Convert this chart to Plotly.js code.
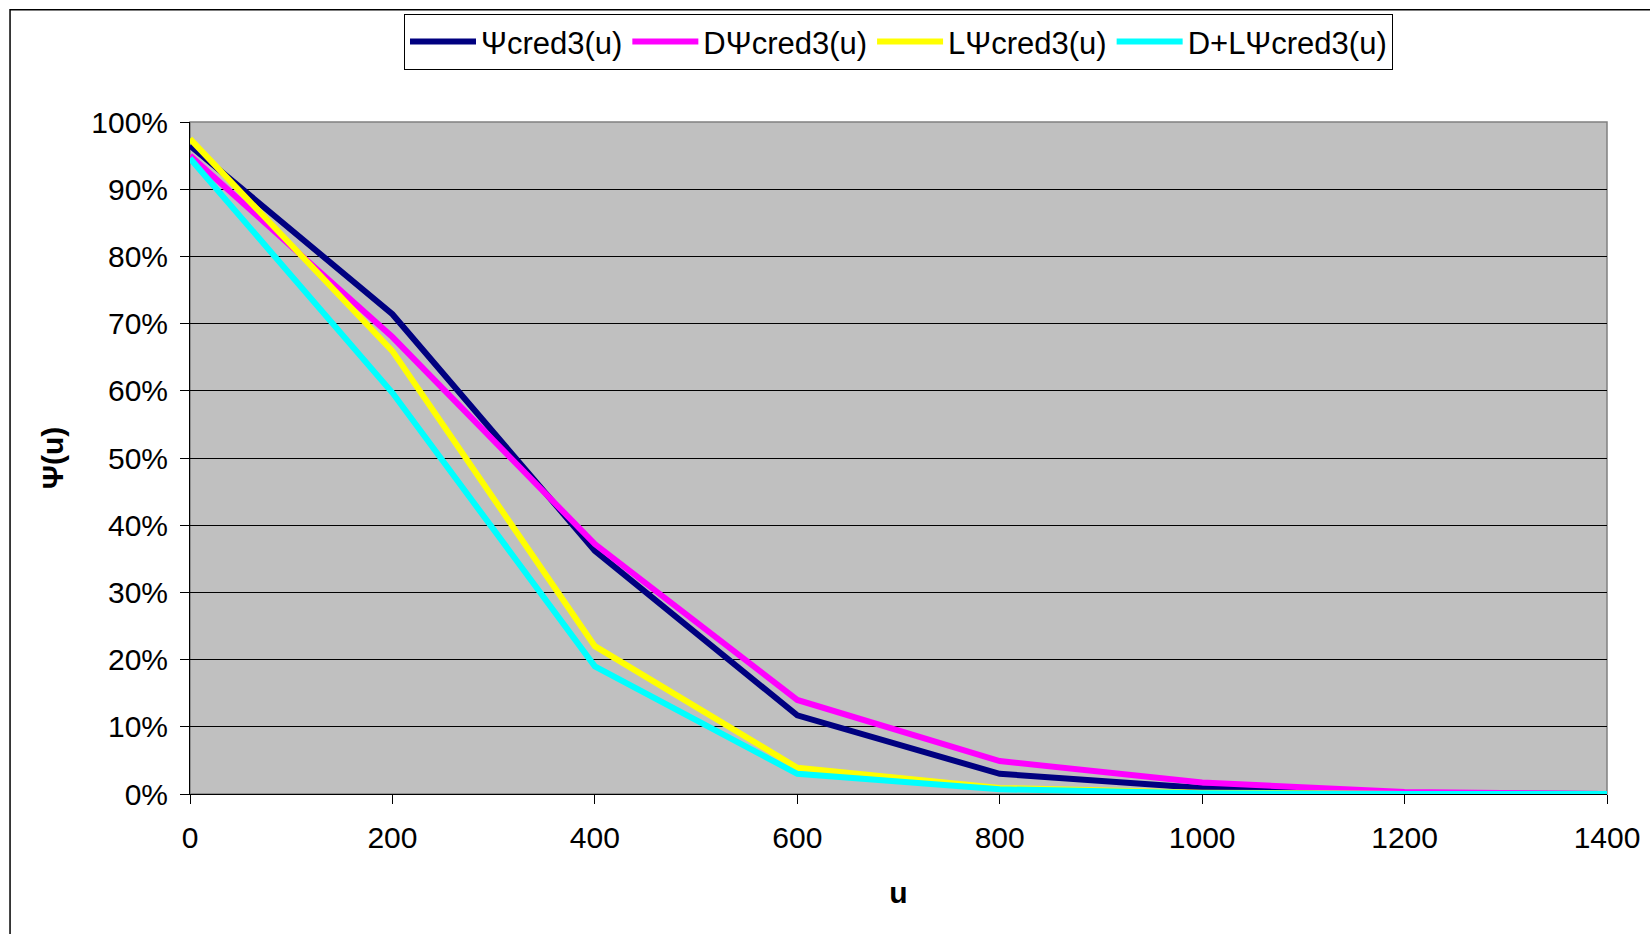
<!DOCTYPE html>
<html>
<head>
<meta charset="utf-8">
<script src="https://cdn.plot.ly/plotly-3.0.1.min.js"></script>
<style>html,body{margin:0;padding:0;background:#fff;}#chart{width:1650px;height:934px;}</style>
</head>
<body>
<div id="chart"></div>
<script>
const u = [0, 200, 400, 600, 800, 1000, 1200, 1400];
const psiCred3 = [0.965, 0.714, 0.362, 0.117, 0.030, 0.009, 0.001, 0.000];
const dPsiCred3 = [0.950, 0.680, 0.372, 0.140, 0.049, 0.017, 0.003, 0.000];
const lPsiCred3 = [0.975, 0.659, 0.220, 0.039, 0.009, 0.002, 0.000, 0.000];
const dlPsiCred3 = [0.946, 0.597, 0.190, 0.030, 0.007, 0.001, 0.000, 0.000];
const seriesNames = ['Ψcred3(u)', 'DΨcred3(u)', 'LΨcred3(u)', 'D+LΨcred3(u)'];
const seriesColors = ['#000080', '#FF00FF', '#FFFF00', '#00FFFF'];
const seriesValues = [psiCred3, dPsiCred3, lPsiCred3, dlPsiCred3];
const xTickVals = [0, 200, 400, 600, 800, 1000, 1200, 1400];

const traces = seriesValues.map((vals, i) => ({
  x: u, y: vals, type: 'scatter', mode: 'lines', name: seriesNames[i],
  line: {color: seriesColors[i], width: 6}, cliponaxis: false
}));

const F = 'Liberation Sans, Arial, sans-serif';
const layout = {
  width: 1650, height: 934,
  margin: {l: 190, r: 43, t: 122, b: 139.5},
  paper_bgcolor: '#ffffff', plot_bgcolor: '#C0C0C0',
  font: {family: F, size: 30, color: '#000'},
  showlegend: true,
  legend: {orientation: 'h', x: 0.5, xanchor: 'center', y: 1.161, yanchor: 'top',
    bordercolor: '#000', borderwidth: 1, bgcolor: '#fff', font: {family: F, size: 31},
    itemwidth: 66, tracegroupgap: 0},
  xaxis: {range: [0, 1400], tickvals: xTickVals, showgrid: false, zeroline: false,
    showline: true, linecolor: '#000', linewidth: 1, ticks: 'outside', ticklen: 9, tickcolor: '#000',
    ticklabelstandoff: 8,
    title: {text: '<b>u</b>', font: {family: F, size: 30}, standoff: 28}},
  yaxis: {range: [0, 1], dtick: 0.1, tickformat: '.0%', showgrid: true, gridcolor: '#000', gridwidth: 1,
    zeroline: false, showline: true, linecolor: '#000', linewidth: 1, ticks: 'outside', ticklen: 9,
    tickcolor: '#000', ticklabelstandoff: 6,
    title: {text: '<b>Ψ(u)</b>', font: {family: F, size: 30}, standoff: 18}},
  shapes: [
    {type: 'rect', xref: 'paper', yref: 'paper', x0: 0, x1: 1, y0: 0, y1: 1,
     line: {color: '#808080', width: 1.5}, layer: 'below'},
    {type: 'rect', xref: 'paper', yref: 'paper', x0: -0.127, x1: 1.1, y0: -0.3, y1: 1.167,
     line: {color: '#000', width: 1.5}, fillcolor: 'rgba(0,0,0,0)'}
  ]
};
Plotly.newPlot('chart', traces, layout, {displayModeBar: false, staticPlot: true});
</script>
</body>
</html>
